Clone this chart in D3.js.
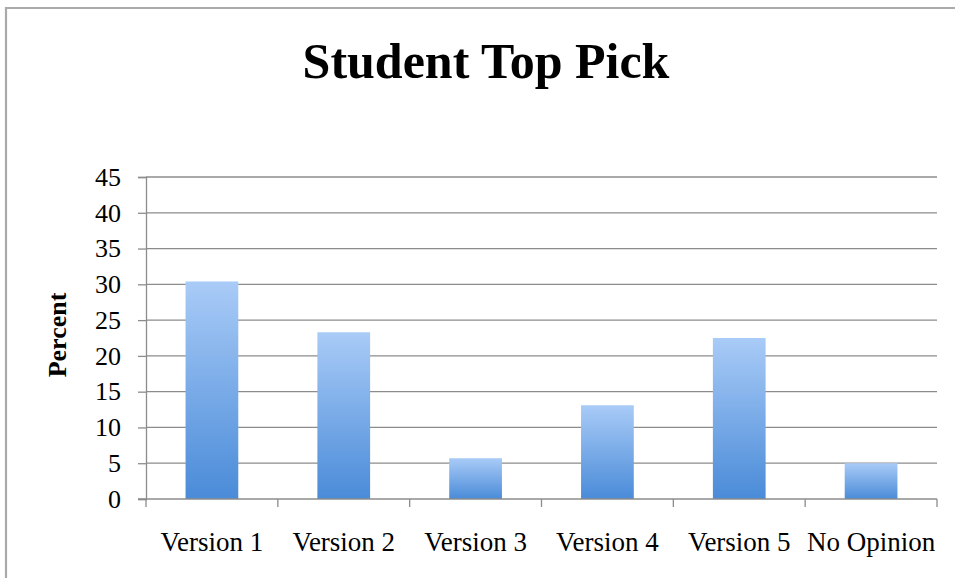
<!DOCTYPE html>
<html><head><meta charset="utf-8">
<script src="https://cdn.jsdelivr.net/npm/d3@7"></script>
<style>body{margin:0;background:#fff;} svg{display:block;}</style>
</head><body>
<script>
const categories = ["Version 1","Version 2","Version 3","Version 4","Version 5","No Opinion"];
const values = [30.4, 23.3, 5.7, 13.1, 22.5, 5.0];
const yTicks = [0,5,10,15,20,25,30,35,40,45];
const title = "Student Top Pick";
const yLabel = "Percent";

const W = 955, H = 578;
const m = {left:146, right:18, top:177, bottom:79};
const svg = d3.select("body").append("svg").attr("width",W).attr("height",H);
const FONT = "'Liberation Serif', serif";

// border
svg.append("path").attr("d",`M6,${H} V8 H${W}`).attr("fill","none").attr("stroke","#aaa").attr("stroke-width",2.2);

const defs = svg.append("defs");
const g1 = defs.append("linearGradient").attr("id","barGrad").attr("x1",0).attr("y1",0).attr("x2",0).attr("y2",1);
g1.append("stop").attr("offset","0%").attr("stop-color","#a9cbf7");
g1.append("stop").attr("offset","100%").attr("stop-color","#4a8bd8");

const x = d3.scaleBand().domain(categories).range([m.left, W-m.right]).paddingInner(0.6).paddingOuter(0.3);
const y = d3.scaleLinear().domain([0,45]).range([H-m.bottom, m.top]);

// gridlines
svg.append("g").selectAll("line").data(yTicks.slice(1)).join("line")
  .attr("x1",m.left).attr("x2",W-m.right).attr("y1",d=>y(d)).attr("y2",d=>y(d))
  .attr("stroke","#8c8c8c").attr("stroke-width",1.3);

// bars
svg.append("g").selectAll("rect").data(values).join("rect")
  .attr("x",(d,i)=>x(categories[i])).attr("width",x.bandwidth())
  .attr("y",d=>y(d)).attr("height",d=>y(0)-y(d))
  .attr("fill","url(#barGrad)");

// y axis
const yAxis = svg.append("g").attr("transform",`translate(${m.left},0)`)
  .call(d3.axisLeft(y).tickValues(yTicks).tickSize(8).tickPadding(17));
yAxis.select(".domain").attr("stroke","#8c8c8c").attr("stroke-width",1.3);
yAxis.selectAll(".tick line").attr("stroke","#8c8c8c").attr("stroke-width",1.3);
yAxis.selectAll("text").attr("font-family",FONT).attr("font-size",26).attr("fill","#000");

// x axis
const xg = svg.append("g");
xg.append("line").attr("x1",m.left-8).attr("x2",W-m.right).attr("y1",y(0)).attr("y2",y(0))
  .attr("stroke","#8c8c8c").attr("stroke-width",1.3);
const xEdge = d3.scaleLinear().domain([0,categories.length]).range([m.left, W-m.right]);
xg.selectAll("line.t").data(d3.range(categories.length+1)).join("line").attr("class","t")
  .attr("x1",d=>xEdge(d)).attr("x2",d=>xEdge(d)).attr("y1",y(0)).attr("y2",y(0)+8)
  .attr("stroke","#8c8c8c").attr("stroke-width",1.3);
xg.selectAll("text").data(categories).join("text")
  .attr("x",d=>x(d)+x.bandwidth()/2).attr("y",551)
  .attr("text-anchor","middle").attr("font-family",FONT).attr("font-size",27).attr("fill","#000")
  .text(d=>d);

// title
svg.append("text").attr("x",486).attr("y",78).attr("text-anchor","middle")
  .attr("font-family",FONT).attr("font-weight","bold").attr("font-size",50)
  .text(title);

// y label
svg.append("text").attr("transform","translate(66,335) rotate(-90)").attr("text-anchor","middle")
  .attr("font-family",FONT).attr("font-weight","bold").attr("font-size",26)
  .text(yLabel);
</script>
</body></html>
